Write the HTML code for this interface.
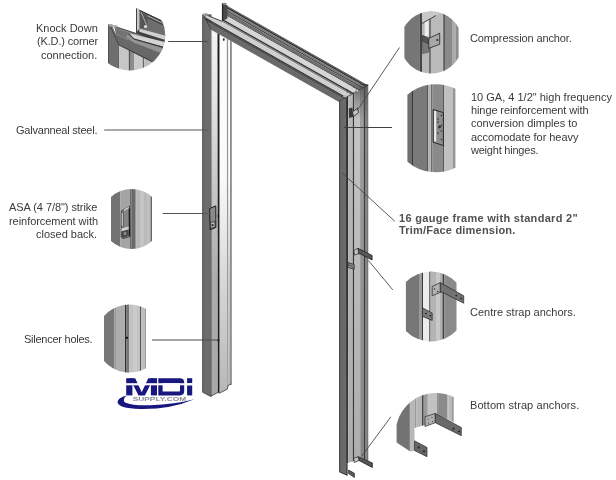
<!DOCTYPE html>
<html><head><meta charset="utf-8"><style>
html,body{margin:0;padding:0;background:#fff;}
#w{position:relative;width:616px;height:480px;overflow:hidden;background:#fff;}
svg{position:absolute;left:0;top:0;will-change:transform;}
.t{position:absolute;font-family:"Liberation Sans",sans-serif;font-size:11px;line-height:13px;color:#3a3a3a;white-space:nowrap;will-change:transform;}
</style></head><body><div id="w">
<svg width="616" height="480" viewBox="0 0 616 480">
<defs><linearGradient id="gA" gradientUnits="userSpaceOnUse" x1="0" y1="30" x2="0" y2="396">
<stop offset="0" stop-color="#f4f4f4"/><stop offset="0.2" stop-color="#e2e2e2"/><stop offset="0.38" stop-color="#cdcdcd"/><stop offset="0.68" stop-color="#acacac"/><stop offset="1" stop-color="#a8a8a8"/></linearGradient><linearGradient id="gB" gradientUnits="userSpaceOnUse" x1="0" y1="30" x2="0" y2="396">
<stop offset="0" stop-color="#fdfdfd"/><stop offset="0.4" stop-color="#fafafa"/><stop offset="0.68" stop-color="#d8d8d8"/><stop offset="1" stop-color="#b6b6b6"/></linearGradient><linearGradient id="gC" gradientUnits="userSpaceOnUse" x1="0" y1="30" x2="0" y2="396">
<stop offset="0" stop-color="#ffffff"/><stop offset="0.4" stop-color="#fdfdfd"/><stop offset="0.68" stop-color="#c8c8c8"/><stop offset="1" stop-color="#b0b0b0"/></linearGradient><linearGradient id="gR1" gradientUnits="userSpaceOnUse" x1="0" y1="90" x2="0" y2="460"><stop offset="0" stop-color="#c6c6c6"/><stop offset="1" stop-color="#adadad"/></linearGradient><linearGradient id="gR2" gradientUnits="userSpaceOnUse" x1="0" y1="90" x2="0" y2="460"><stop offset="0" stop-color="#a0a0a0"/><stop offset="1" stop-color="#858585"/></linearGradient><linearGradient id="gR3" gradientUnits="userSpaceOnUse" x1="0" y1="90" x2="0" y2="460"><stop offset="0" stop-color="#b8b8b8"/><stop offset="1" stop-color="#adadad"/></linearGradient><linearGradient id="gRJ" x1="0" y1="0" x2="0" y2="1"><stop offset="0" stop-color="#505050" stop-opacity="0.75"/><stop offset="1" stop-color="#505050" stop-opacity="0"/></linearGradient><clipPath id="hL"><polygon points="205.5,14.6 222.2,21.4 222.2,-5 420,-5 420,140 210.6,140 210.6,29.4 205.5,19"/></clipPath><clipPath id="hR"><polygon points="190,-10 400,-10 400,67.64 190,183.14"/></clipPath><clipPath id="cKD"><circle cx="129.8" cy="35.1" r="35.4"/></clipPath><clipPath id="cS"><path d="M111,197.1 A30,30 0 0 1 152,197.1 L152,240.9 A30,30 0 0 1 111,240.9 Z"/></clipPath><clipPath id="cSi"><path d="M104,316.01 A34,34 0 0 1 146,308.77 L146,368.23 A34,34 0 0 1 104,360.99 Z"/></clipPath><clipPath id="cCA"><path d="M404.4,27.09 A31,31 0 0 1 458.6,27.81 L458.6,57.19 A31,31 0 0 1 404.4,57.91 Z"/></clipPath><clipPath id="cH"><path d="M407.4,94.76 A44,44 0 0 1 455.4,88.71 L455.4,167.69 A44,44 0 0 1 407.4,161.64 Z"/></clipPath><clipPath id="cCS"><path d="M405.9,282.11 A35,35 0 0 1 456.5,282.53 L456.5,330.47 A35,35 0 0 1 405.9,330.89 Z"/></clipPath><clipPath id="cBS"><path d="M396.6,443 L396.6,425 A40,40 0 0 1 453.7,397.2 L453.7,452 L396.6,452 Z"/></clipPath></defs>
<polygon points="346.5,84 348.2,84 348.2,462.76 346.5,463.22" fill="#2e2e2e" />
<polygon points="348.2,84 352.8,84 352.8,461.51 348.2,462.76" fill="url(#gR3)" />
<polygon points="352.8,84 354.4,84 354.4,460.5 352.8,461.51" fill="#363636" />
<polygon points="354.4,84 360.2,84 360.2,457.58 354.4,460.5" fill="url(#gR1)" />
<polygon points="360.2,84 361,84 361,457.93 360.2,457.58" fill="#8a8a8a" />
<polygon points="361,84 363.6,84 363.6,459.08 361,457.93" fill="url(#gR2)" />
<polygon points="363.6,84 365.7,84 365.7,460 363.6,459.08" fill="#3e3e3e" />
<polygon points="365.7,84 367.4,84 367.4,460.75 365.7,460" fill="#8a8a8a" />
<polygon points="367.4,84 368.2,84 368.2,461.1 367.4,460.75" fill="#3a3a3a" />
<rect x="354.4" y="86" width="13" height="34" fill="url(#gRJ)" />
<polygon points="339.2,101.1 346.5,97.1 347.3,475.4 339.2,471.7" fill="#6a6a6a" />
<line x1="339.7" y1="100" x2="339.7" y2="471.7" stroke="#404040" stroke-width="1" />
<line x1="346.6" y1="98" x2="346.9" y2="475" stroke="#3a3a3a" stroke-width="1.2" />
<line x1="339.2" y1="471.7" x2="347.3" y2="475.4" stroke="#333" stroke-width="1" />
<polygon points="202.3,14.2 210.6,14.2 210.6,396.4 202.3,392" fill="#6c6c6c" />
<line x1="202.8" y1="15" x2="202.8" y2="392" stroke="#505050" stroke-width="1" />
<polygon points="210.6,29.4 217.5,33.3 217.9,392.4 210.6,396.4" fill="url(#gA)" />
<polygon points="210.4,14.2 211.4,14.2 211.4,396.4 210.4,396.4" fill="#3c3c3c" />
<polygon points="217.5,33.3 219.7,34.55 219.7,393 217.9,392.4" fill="#1e1e1e" />
<polygon points="219.7,34.55 226.8,38.56 227.2,389.2 219.7,393" fill="url(#gB)" />
<polygon points="226.8,38.56 228.4,39.46 228.3,385.4 227.2,389.2" fill="#959595" />
<polygon points="228.4,39.46 230,40.37 230.1,384.4 228.3,385.4" fill="url(#gC)" />
<polygon points="230,40.37 231.8,41.39 231.8,384 230.1,384.4" fill="#8a8a8a" />
<polyline points="202.3,392 210.6,396.4 217.9,392.4 219.5,393.1 227.4,389.1 228.1,385.4 231.8,384" fill="none" stroke="#3a3a3a" stroke-width="0.8"/>
<ellipse cx="223.8" cy="39.6" rx="0.9" ry="1.4" fill="#222"/>
<polygon points="209.6,208.6 215.8,205.9 215.9,227.4 210.2,229.8" fill="#8a8a8a" stroke="#1a1a1a" stroke-width="1"/>
<polygon points="210.6,222.5 214.8,221.5 215.2,226.8 211,228.5" fill="#bdbdbd" stroke="#222" stroke-width="0.7"/>
<circle cx="212.6" cy="225.2" r="1.1" fill="#2a2a2a"/>
<line x1="218.3" y1="214.5" x2="218.3" y2="217.3" stroke="#111" stroke-width="1.2" />
<circle cx="218.3" cy="340.3" r="1.1" fill="#111"/>
<g clip-path="url(#hR)">
<polygon points="222.2,2.96 370,86.52 370,87.52 222.2,3.96" fill="#4a4a4a" />
<polygon points="222.2,3.96 370,87.52 370,89.52 222.2,5.96" fill="#353535" />
<polygon points="222.2,5.96 370,89.52 370,91.37 222.2,7.81" fill="#777777" />
<polygon points="222.2,7.81 370,91.37 370,92.82 222.2,9.26" fill="#444444" />
<polygon points="222.2,9.26 370,92.82 370,95.82 222.2,12.26" fill="#6e6e6e" />
<polygon points="222.2,12.26 370,95.82 370,96.82 222.2,13.26" fill="#333333" />
<polygon points="222.2,13.26 370,96.82 370,102.22 222.2,18.66" fill="#d6d6d6" />
<g clip-path="url(#hL)">
<polygon points="204,8.37 370,102.22 370,103.92 204,10.07" fill="#353535" />
<polygon points="204,10.07 370,103.92 370,105.52 204,11.67" fill="#7a7a7a" />
<polygon points="204,11.67 370,105.52 370,110.42 204,16.57" fill="#cfcfcf" />
<polygon points="204,16.57 370,110.42 370,112.32 204,18.47" fill="#3a3a3a" />
</g>
<line x1="205.5" y1="14.6" x2="222.2" y2="21.4" stroke="#333" stroke-width="0.9" />
<polygon points="205,19.03 360,106.67 350,108.22 210.6,29.4 204.3,16.5" fill="#6a6a6a" />
<line x1="205" y1="19.33" x2="360" y2="106.97" stroke="#333" stroke-width="0.8" />
</g>
<line x1="367.9" y1="85.3" x2="338.5" y2="101.5" stroke="#3a3a3a" stroke-width="0.8" />
<ellipse cx="357.3" cy="90.8" rx="1.6" ry="1.2" fill="#e0e0e0" stroke="#333" stroke-width="0.5"/>
<ellipse cx="344.9" cy="96.2" rx="1.8" ry="1.1" fill="#bbb"/>
<polygon points="222.2,3 227.5,5.2 227.5,18.5 222.2,21" fill="#4a4a4a" />
<line x1="222.5" y1="3.2" x2="222.5" y2="21" stroke="#222" stroke-width="1.2" />
<line x1="204.3" y1="16.5" x2="210.6" y2="28.6" stroke="#3a3a3a" stroke-width="0.9" />
<ellipse cx="205.5" cy="14.6" rx="3" ry="1.3" fill="#9a9a9a"/>
<ellipse cx="224.5" cy="3.8" rx="2.2" ry="1.1" fill="#8a8a8a"/>
<polygon points="348.8,108.5 352.5,107.5 353,117 349,118" fill="#3a3a3a" />
<polygon points="352.5,112 357.5,108 358.5,112.5 353.5,116.5" fill="#c8c8c8" stroke="#222" stroke-width="0.8"/>
<polygon points="357.9,248.3 372.1,255.4 372.1,260 360,253.75 358.5,254" fill="#575757" stroke="#1e1e1e" stroke-width="0.8"/>
<polygon points="353.8,250.5 357.9,248.3 358.7,253.5 354.5,255" fill="#c4c4c4" stroke="#222" stroke-width="0.7"/>
<polygon points="347.9,262.5 354.2,264.5 354.2,269.2 347.9,267.5" fill="#8a8a8a" stroke="#222" stroke-width="0.7"/>
<line x1="348.5" y1="264.5" x2="353.5" y2="267.5" stroke="#333" stroke-width="0.7" />
<polygon points="358.2,456.7 372.3,462.9 372.3,467.5 359,460.5" fill="#555555" stroke="#1e1e1e" stroke-width="0.8"/>
<polygon points="353.6,458.5 358.2,456.7 359,460.5 354.2,462.5" fill="#c4c4c4" stroke="#222" stroke-width="0.7"/>
<polygon points="348.6,470 354.4,473.3 354.4,477.5 348.6,473.6" fill="#5a5a5a" stroke="#1e1e1e" stroke-width="0.7"/>
<line x1="168.2" y1="41.5" x2="207.5" y2="41.5" stroke="#4a4a4a" stroke-width="1" />
<line x1="104.2" y1="130" x2="207.5" y2="130" stroke="#555" stroke-width="1" />
<line x1="162.7" y1="213.5" x2="210.5" y2="213.5" stroke="#555" stroke-width="1" />
<line x1="152" y1="340" x2="218.3" y2="340" stroke="#4a4a4a" stroke-width="1" />
<line x1="356.8" y1="110.9" x2="399.5" y2="47.5" stroke="#484848" stroke-width="0.9" />
<line x1="343.8" y1="127.5" x2="392" y2="127.5" stroke="#404040" stroke-width="1" />
<line x1="342.3" y1="173.1" x2="394.8" y2="221.3" stroke="#484848" stroke-width="0.9" />
<line x1="368.3" y1="260.4" x2="392.8" y2="289.9" stroke="#484848" stroke-width="0.9" />
<line x1="361.7" y1="456.2" x2="390.9" y2="416.8" stroke="#484848" stroke-width="0.9" />
<g clip-path="url(#cKD)">
<rect x="118.2" y="40" width="1" height="35" fill="#3a3a3a" />
<rect x="119.2" y="40" width="9.6" height="35" fill="#c6c6c6" />
<rect x="128.8" y="40" width="1.1" height="35" fill="#3a3a3a" />
<rect x="129.9" y="40" width="3" height="35" fill="#8a8a8a" />
<rect x="132.9" y="40" width="0.8" height="35" fill="#3a3a3a" />
<rect x="133.7" y="40" width="9" height="35" fill="#cbcbcb" />
<rect x="142.7" y="40" width="1.5" height="35" fill="#6a6a6a" />
<rect x="144.2" y="40" width="8" height="35" fill="#bdbdbd" />
<polygon points="136.3,8.5 161,20.1 168,27 168,42 139.3,28.7 136.3,33.3" fill="#6e6e6e" />
<polygon points="137,8.5 161,20.1 162,22.2 137,10.5" fill="#3a3a3a" />
<polygon points="139.5,11.2 162,22.2 163,24 139.5,13" fill="#a8a8a8" />
<polygon points="139.5,13 163,24 163,25.2 139.5,14.2" fill="#3a3a3a" />
<polygon points="140.2,11.8 147.5,15.2 147.5,28 140.2,28.2" fill="#555555" />
<line x1="141.2" y1="12.5" x2="146.5" y2="24.8" stroke="#b8b8b8" stroke-width="0.9" />
<ellipse cx="145.6" cy="26.6" rx="1.7" ry="1.5" fill="#dedede"/>
<polygon points="136.3,8.3 139.3,9 139.3,33 136.3,33.3" fill="#c8c8c8" />
<line x1="136.5" y1="8.5" x2="136.5" y2="33.3" stroke="#333" stroke-width="0.9" />
<polygon points="139.3,28.4 168,36.3 168,44 136,36 136,33.2" fill="#3e3e3e" />
<polygon points="139.3,28.4 168,36.3 168,40.8 139.3,31.8" fill="#d0d0d0" />
<polygon points="114,26 136.3,33.3 168,46 168,55.5 134,42.7 116,34" fill="#727272" />
<polygon points="114,26 136.3,33.3 136.3,35.3 116,28.3" fill="#8e8e8e" />
<polygon points="129,33.6 134,34.5 168,42.8 168,48 134,38.5" fill="#d4d4d4" />
<polygon points="129,33.6 134,38.5 168,48 168,49.5 134,39.8 128,34.3" fill="#3a3a3a" />
<polygon points="128,34.3 134,39.8 168,49.5 168,55.5 134,42.7 126,37" fill="#959595" />
<line x1="113" y1="26" x2="136.3" y2="33.6" stroke="#3a3a3a" stroke-width="0.8" />
<polygon points="112,26.8 116,34 134,42.7 168,55.5 168,70 140,56 119,45 118.2,45" fill="#686868" />
<line x1="119" y1="45" x2="168" y2="69.5" stroke="#333" stroke-width="0.9" />
<polygon points="108.1,24.3 112,24.6 118.6,44.6 118.2,80 108.1,80" fill="#6e6e6e" />
<line x1="110.8" y1="27" x2="118.7" y2="44.8" stroke="#3e3e3e" stroke-width="0.8" />
<line x1="108.5" y1="25" x2="108.5" y2="66" stroke="#444" stroke-width="0.8" />
<ellipse cx="110.8" cy="25.3" rx="2.3" ry="1.3" fill="#a8a8a8"/>
<ellipse cx="115" cy="26.2" rx="2.8" ry="1.3" fill="#b0b0b0"/>
</g>
<g clip-path="url(#cS)">
<rect x="111" y="185" width="9.5" height="67" fill="#737373" />
<rect x="120.5" y="185" width="9.7" height="67" fill="#a4a4a4" />
<rect x="130.2" y="185" width="1.4" height="67" fill="#505050" />
<rect x="131.6" y="185" width="4" height="67" fill="#6a6a6a" />
<rect x="135.6" y="185" width="0.9" height="67" fill="#8a8a8a" />
<rect x="136.5" y="185" width="3.5" height="67" fill="#b8b8b8" />
<rect x="140" y="185" width="4" height="67" fill="#c4c4c4" />
<rect x="144" y="185" width="2.4" height="67" fill="#bababa" />
<rect x="146.4" y="185" width="1" height="67" fill="#999" />
<rect x="147.4" y="185" width="3.1" height="67" fill="#bcbcbc" />
<rect x="150.5" y="185" width="1.5" height="67" fill="#666" />
<polygon points="121.5,210.8 129.4,206.3 129.9,236.5 123,238.6 121.2,237" fill="#858585" stroke="#2a2a2a" stroke-width="0.7"/>
<line x1="129.3" y1="207" x2="129.5" y2="236.3" stroke="#1a1a1a" stroke-width="1.3" />
<polygon points="123.9,209.3 129.2,206.4 129.2,208.2 124,211" fill="#c8c8c8" />
<polygon points="121.2,212.7 123.4,212 123.4,226.4 121.2,227" fill="#c4c4c4" stroke="#333" stroke-width="0.6"/>
<polygon points="121.5,228.5 128.5,226.5 128.5,229.6 121.5,231.5" fill="#cfcfcf" />
<polygon points="121.5,231.5 128.5,229.6 128.8,235.5 123,238 121.5,236.5" fill="#4a4a4a" />
<circle cx="125" cy="233.6" r="1.3" fill="#bbb"/>
<circle cx="125" cy="233.6" r="0.6" fill="#222"/>
</g>
<g clip-path="url(#cSi)">
<rect x="104" y="300" width="10.5" height="76" fill="#777777" />
<rect x="114.5" y="300" width="2.3" height="76" fill="#999999" />
<rect x="116.8" y="300" width="8.2" height="76" fill="#adadad" />
<rect x="125" y="300" width="1.1" height="76" fill="#333" />
<rect x="126.1" y="300" width="2.3" height="76" fill="#777" />
<rect x="128.4" y="300" width="0.7" height="76" fill="#444" />
<rect x="129.1" y="300" width="3.9" height="76" fill="#c2c2c2" />
<rect x="133" y="300" width="4" height="76" fill="#cacaca" />
<rect x="137" y="300" width="3" height="76" fill="#c2c2c2" />
<rect x="140" y="300" width="1.1" height="76" fill="#555" />
<rect x="141.1" y="300" width="3.8" height="76" fill="#bdbdbd" />
<rect x="144.9" y="300" width="1.1" height="76" fill="#999" />
<ellipse cx="126.9" cy="337.8" rx="1.3" ry="1.1" fill="#111"/>
</g>
<g clip-path="url(#cCA)">
<rect x="404" y="10" width="15.9" height="66" fill="#767676" />
<rect x="419.9" y="10" width="2.1" height="66" fill="#444444" />
<rect x="422" y="10" width="7.3" height="66" fill="#b8b8b8" />
<rect x="429.3" y="10" width="1.5" height="66" fill="#444" />
<rect x="430.8" y="10" width="12.5" height="66" fill="#bababa" />
<rect x="443.3" y="10" width="1.6" height="66" fill="#444" />
<rect x="444.9" y="10" width="7.8" height="66" fill="#8a8a8a" />
<rect x="452.7" y="10" width="3.1" height="66" fill="#aaaaaa" />
<rect x="455.8" y="10" width="3.2" height="66" fill="#8e8e8e" />
<polygon points="422,10 440,10 440,13.5 422,23.5" fill="#c8c8c8" />
<polygon points="424.7,21.8 428.7,19.6 428.7,36 424.7,36" fill="#eeeeee" />
<line x1="422" y1="23.5" x2="436" y2="15.5" stroke="#333" stroke-width="0.9" />
<polygon points="422.5,35.3 428.75,38.4 428.75,48.3 422.5,41" fill="#555" stroke="#222" stroke-width="0.6"/>
<polygon points="428.75,38.4 439.7,33.2 439.7,44.2 428.75,48.3" fill="#a8a8a8" stroke="#222" stroke-width="0.8"/>
<circle cx="437.3" cy="40" r="1" fill="#222"/>
<polygon points="422.5,41 428.5,44 428.8,52 422.8,53.5" fill="#7a7a7a" stroke="#333" stroke-width="0.5"/>
</g>
<g clip-path="url(#cH)">
<rect x="407" y="82" width="5" height="94" fill="#6e6e6e" />
<rect x="412" y="82" width="1" height="94" fill="#3a3a3a" />
<rect x="413" y="82" width="14" height="94" fill="#7a7a7a" />
<rect x="427" y="82" width="1" height="94" fill="#555" />
<rect x="428" y="82" width="3.3" height="94" fill="#b5b5b5" />
<rect x="431.3" y="82" width="1.1" height="94" fill="#3a3a3a" />
<rect x="432.4" y="82" width="10.4" height="94" fill="#8a8a8a" />
<rect x="442.8" y="82" width="1.1" height="94" fill="#3a3a3a" />
<rect x="443.9" y="82" width="9.1" height="94" fill="#c0c0c0" />
<rect x="453" y="82" width="3" height="94" fill="#959595" />
<polygon points="433.2,109.5 443.4,112.6 443.4,145.6 433.2,142.2" fill="#8c8c8c" stroke="#1e1e1e" stroke-width="0.9"/>
<polygon points="434.1,110.6 436.2,111.2 436.2,141.7 434.1,141.2" fill="#eeeeee" />
<circle cx="438" cy="119" r="0.8" fill="#2a2a2a"/>
<circle cx="438" cy="122" r="0.8" fill="#2a2a2a"/>
<circle cx="438" cy="133" r="0.8" fill="#2a2a2a"/>
<circle cx="441.4" cy="115.5" r="0.8" fill="#2a2a2a"/>
<circle cx="441.4" cy="125.5" r="0.8" fill="#2a2a2a"/>
<circle cx="441.4" cy="131" r="0.8" fill="#2a2a2a"/>
<circle cx="441.4" cy="139.5" r="0.8" fill="#2a2a2a"/>
<circle cx="439.6" cy="127" r="1.4" fill="#2a2a2a"/>
</g>
<g clip-path="url(#cCS)">
<rect x="405" y="268" width="14" height="76" fill="#777777" />
<rect x="419" y="268" width="2.9" height="76" fill="#9a9a9a" />
<rect x="421.9" y="268" width="1.1" height="76" fill="#3a3a3a" />
<rect x="423" y="268" width="6.3" height="76" fill="#ececec" />
<rect x="429.3" y="268" width="1.2" height="76" fill="#3a3a3a" />
<rect x="430.5" y="268" width="5.5" height="76" fill="#b4b4b4" />
<rect x="436" y="268" width="4" height="76" fill="#c8c8c8" />
<rect x="440" y="268" width="2.5" height="76" fill="#b0b0b0" />
<rect x="442.5" y="268" width="1.7" height="76" fill="#3e3e3e" />
<rect x="444.2" y="268" width="12.8" height="76" fill="#8a8a8a" />
<polygon points="422.4,307.8 432.2,313 432.2,320.4 422.4,316.4" fill="#7a7a7a" stroke="#222" stroke-width="0.7"/>
<circle cx="425.9" cy="313.5" r="0.8" fill="#111"/>
<circle cx="430.3" cy="315.8" r="0.8" fill="#111"/>
</g>
<polygon points="440.2,282.6 463.7,295.8 463.7,303.2 442.5,292.3 440.2,292.3" fill="#727272" stroke="#222" stroke-width="0.7"/>
<polygon points="432.2,286.6 440.2,282.6 440.2,292.3 432.2,295.8" fill="#b2b2b2" stroke="#222" stroke-width="0.7"/>
<circle cx="434.5" cy="289" r="0.7" fill="#222"/>
<circle cx="437.8" cy="291.5" r="0.7" fill="#222"/>
<circle cx="456.2" cy="295.6" r="0.8" fill="#111"/>
<circle cx="461.2" cy="298.6" r="0.8" fill="#111"/>
<g clip-path="url(#cBS)">
<polygon points="394,390 409.9,390 409.9,451.25 396.6,442.5 394,442" fill="#737373" />
<polygon points="409.9,390 414.5,390 414.5,450.5 412,451.6 409.9,451.25" fill="#b8b8b8" />
<polygon points="414.5,390 416.2,390 416.2,427.47 414.5,428" fill="#9a9a9a" />
<polygon points="416.2,390 422,390 422,425.68 416.2,427.47" fill="#b6b6b6" />
<polygon points="422,390 423.7,390 423.7,425.15 422,425.68" fill="#444" />
<polygon points="423.7,390 427.8,390 427.8,424.7 423.7,425.15" fill="#9a9a9a" />
<polygon points="427.8,390 437.5,390 437.5,414.97 427.8,424.7" fill="#c2c2c2" />
<polygon points="437.5,390 438.5,390 438.5,415.41 437.5,414.97" fill="#444" />
<polygon points="438.5,390 447.2,390 447.2,419.24 438.5,415.41" fill="#8a8a8a" />
<polygon points="447.2,390 448.3,390 448.3,419.72 447.2,419.24" fill="#b0b0b0" />
<polygon points="448.3,390 451.5,390 451.5,421.13 448.3,419.72" fill="#bababa" />
<polygon points="451.5,390 454,390 454,422.23 451.5,421.13" fill="#999999" />
</g>
<polygon points="425,416.7 435.3,413.5 435.3,422.7 425,426.5" fill="#b0b0b0" stroke="#2a2a2a" stroke-width="0.7"/>
<circle cx="428" cy="419" r="0.6" fill="#333"/><circle cx="432" cy="417.5" r="0.6" fill="#333"/><circle cx="428.5" cy="423" r="0.6" fill="#333"/><circle cx="432.5" cy="421.5" r="0.6" fill="#333"/>
<polygon points="435.3,413.5 461.3,427.5 461.3,435.7 435.3,422.7" fill="#6a6a6a" stroke="#2a2a2a" stroke-width="0.7"/>
<circle cx="453.4" cy="428.6" r="0.9" fill="#111"/><circle cx="459.1" cy="431.5" r="0.9" fill="#111"/>
<polygon points="414.5,440.8 427,447.5 427,456.7 414.5,450.5" fill="#666666" stroke="#2a2a2a" stroke-width="0.7"/>
<circle cx="418.7" cy="447.5" r="0.9" fill="#111"/><circle cx="424" cy="451.2" r="0.9" fill="#111"/>

<g fill="#17177f">
 <rect x="126.2" y="378.2" width="6.2" height="17.2"/>
 <rect x="150.9" y="378.2" width="6.1" height="17.2"/>
 <path d="M129.8,378.2 L135.2,378.2 L141.7,392.2 L148.3,378.2 L153.6,378.2 L144.9,395.4 L138.5,395.4 Z"/>
 <path d="M158.3,378.2 h21.5 q4.4,0 4.4,4.4 v8.4 q0,4.4 -4.4,4.4 h-21.5 z M162.6,383.2 v8.4 h16.2 q1.2,0 1.2,-1.2 v-6 q0,-1.2 -1.2,-1.2 z" fill-rule="evenodd"/>
 <rect x="187.1" y="378.2" width="5.1" height="5.1"/>
 <rect x="187.1" y="385.3" width="5.1" height="10.1"/>
</g>
<rect x="120" y="383.2" width="75" height="2.1" fill="#fff"/>
<path d="M194.4,399.2 Q170,409.5 140,409 Q118,408.3 117.5,402 Q118,397.5 126.5,395.5 Q122,399.5 125,402.5 Q133,405.8 150,405.3 Q175,404.3 194.4,399.2 z" fill="#17177f"/>
<text x="132.7" y="401.3" font-family="Liberation Sans" font-size="4.6" font-weight="bold" fill="#8a8a96" textLength="53.6" lengthAdjust="spacingAndGlyphs">SUPPLY.COM</text>

</svg>
<div class="t" style="right:518.4px;top:21.66px;text-align:right;">Knock Down</div>
<div class="t" style="right:518.4px;top:35.16px;text-align:right;letter-spacing:-0.15px;">(K.D.) corner</div>
<div class="t" style="right:518.4px;top:48.66px;text-align:right;">connection.</div>
<div class="t" style="right:518.6px;top:123.76px;text-align:right;letter-spacing:-0.22px;">Galvanneal steel.</div>
<div class="t" style="right:518.4px;top:201.46px;text-align:right;letter-spacing:-0.06px;">ASA (4 7/8&quot;) strike</div>
<div class="t" style="right:518.4px;top:214.56px;text-align:right;letter-spacing:-0.05px;">reinforcement with</div>
<div class="t" style="right:518.6px;top:227.76px;text-align:right;">closed back.</div>
<div class="t" style="right:523.8px;top:333.26px;text-align:right;letter-spacing:-0.25px;">Silencer holes.</div>
<div class="t" style="left:470.2px;top:32.06px;letter-spacing:-0.12px;">Compression anchor.</div>
<div class="t" style="left:470.8px;top:91.36px;">10 GA, 4 1/2&quot; high frequency</div>
<div class="t" style="left:470.8px;top:104.46px;letter-spacing:-0.1px;">hinge reinforcement with</div>
<div class="t" style="left:470.8px;top:117.46px;">conversion dimples to</div>
<div class="t" style="left:470.8px;top:130.56px;letter-spacing:-0.04px;">accomodate for heavy</div>
<div class="t" style="left:470.8px;top:143.76px;letter-spacing:-0.22px;">weight hinges.</div>
<div class="t" style="left:398.8px;top:212.06px;font-weight:bold;letter-spacing:0.3px;color:#505050;">16 gauge frame with standard 2&quot;</div>
<div class="t" style="left:398.8px;top:224.46px;font-weight:bold;letter-spacing:0.2px;color:#505050;">Trim/Face dimension.</div>
<div class="t" style="left:470.2px;top:306.36px;">Centre strap anchors.</div>
<div class="t" style="left:470.2px;top:399.26px;letter-spacing:0.08px;">Bottom strap anchors.</div>
</div></body></html>
